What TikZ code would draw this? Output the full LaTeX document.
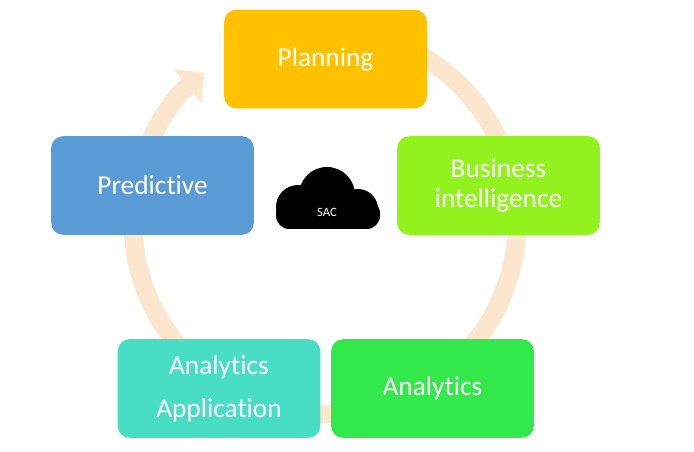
\documentclass[tikz,border=0pt]{standalone}
\usepackage{fontspec}
\setmainfont{Carlito}[Ligatures=NoCommon]
\usetikzlibrary{arrows.meta}
\definecolor{ringc}{RGB}{252,230,205}
\definecolor{planc}{RGB}{255,192,0}
\definecolor{bic}{RGB}{146,242,30}
\definecolor{anac}{RGB}{50,232,74}
\definecolor{appc}{RGB}{72,222,195}
\definecolor{predc}{RGB}{91,155,213}
\tikzset{
  stage/.style={fill=#1, rounded corners=9pt, minimum width=152pt, minimum height=74pt,
    text=white, font=\fontsize{20.5}{23}\selectfont, align=center, inner sep=0pt}
}
\begin{document}
\begin{tikzpicture}[x=0.75pt, y=-0.75pt]
    \useasboundingbox (0,0) rectangle (694,452);

    % Ring
    \draw[ringc, line width=14pt, -{Triangle[length=16pt, width=32pt]}]
      (325,222) ++(-80:192) arc[start angle=-80, end angle=231, radius=192];

    % Stages
    \node[stage=planc] (plan) at (325.5,59) {Planning};
    \node[stage=bic] (bi) at (498.5,185.5) {Business\\intelligence};
    \node[stage=anac] (ana) at (432.5,388.5) {Analytics};
    \node[stage=appc, font=\fontsize{20.5}{32}\selectfont] (app) at (219,388.5) {Analytics\\Application};
    \node[stage=predc] (pred) at (152.5,185.5) {Predictive};

    % Cloud
    \fill[black] (327,195) circle[radius=28] (298,207) circle[radius=22]
      (358,209) circle[radius=20];
    \fill[black, rounded corners=10pt] (276,200) rectangle (380,229);
    \node[text=white, font=\fontsize{9.5}{11}\selectfont] (sac) at (327,212) {SAC};
\end{tikzpicture}
\end{document}
